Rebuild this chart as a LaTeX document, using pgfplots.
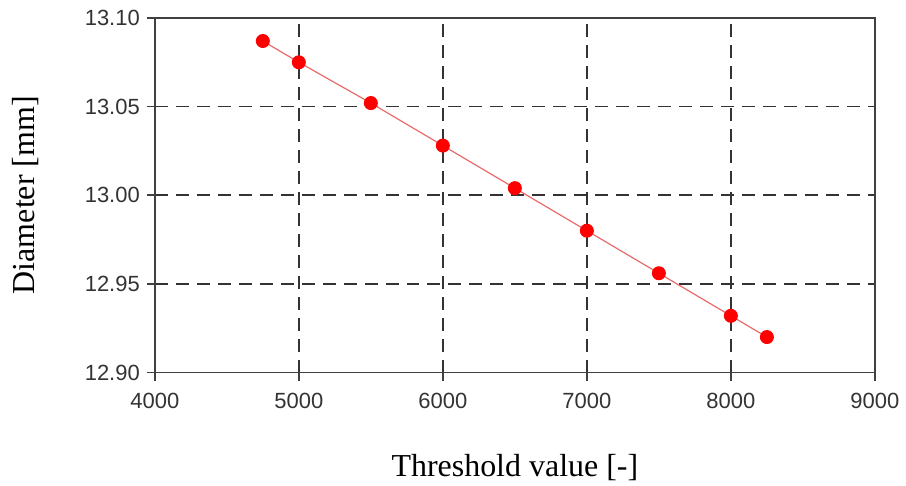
\documentclass[border=0pt]{standalone}
\usepackage{fontspec}
\setmainfont{Liberation Serif}
\setsansfont{Liberation Sans}
\usepackage{pgfplots}
\pgfplotsset{compat=1.18}

\definecolor{axisgray}{HTML}{404040}
\definecolor{linered}{HTML}{E86A6A}

\begin{document}
\begin{tikzpicture}
\begin{axis}[
    name=ax,
    scale only axis,
    width=360.5pt,
    height=177.5pt,
    xmin=4000, xmax=9000,
    ymin=12.90, ymax=13.10,
    xtick={4000,5000,...,9000},
    ytick={12.90,12.95,...,13.10},
    xtick pos=left, ytick pos=left,
    tick align=outside,
    major tick length=4pt,
    axis line style={axisgray, line width=0.8pt},
    every tick/.style={axisgray, line width=0.8pt},
    grid=major,
    major grid style={black!80, dashed, dash pattern=on 6.5pt off 4pt, line width=0.8pt},
    ticklabel style={font=\sffamily\fontsize{11}{13}\selectfont, text=black!80},
    /pgf/number format/assume math mode=true,
    x tick label style={/pgf/number format/1000 sep={}, yshift=-3pt},
    y tick label style={/pgf/number format/.cd, fixed, fixed zerofill, precision=2},
    xlabel={Threshold value [-]},
    ylabel={Diameter [mm]},
    label style={font=\fontsize{16}{19}\selectfont, inner sep=0pt},
    xlabel style={at={(axis description cs:0.5,-0.268)}, anchor=center},
    ylabel style={at={(axis description cs:-0.180,0.5)}, anchor=center, rotate=0, inner ysep=6pt},
]
\addplot[linered, line width=0.6pt, mark=*, mark size=3.2pt,
    mark options={fill=red, draw=red}] coordinates {
    (4750, 13.087) (5000, 13.075) (5500, 13.052) (6000, 13.028)
    (6500, 13.004) (7000, 12.980) (7500, 12.956) (8000, 12.932)
    (8250, 12.920)
};
\end{axis}
% page margins above and below the axis, as in the reference
\path ([yshift=9pt]ax.north) ([yshift=-56.5pt]ax.south);
\end{tikzpicture}
\end{document}
